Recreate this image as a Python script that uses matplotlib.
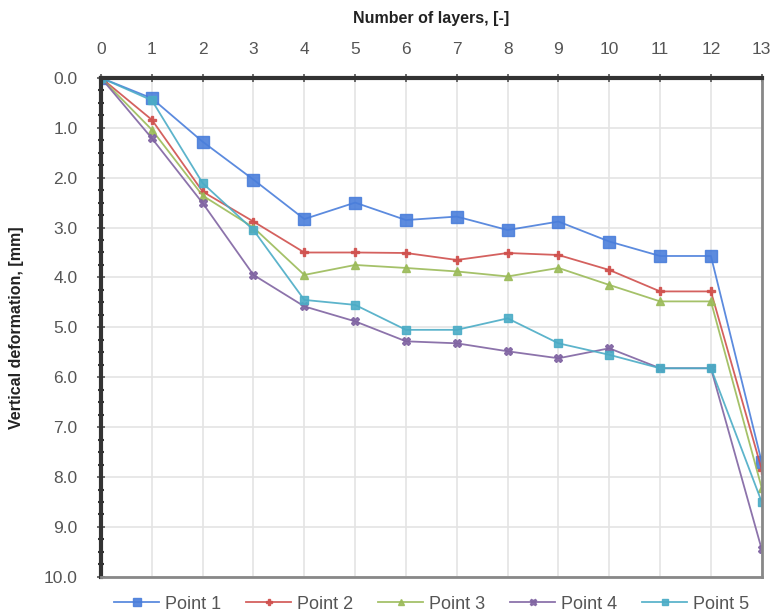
import matplotlib
matplotlib.use("Agg")
import matplotlib.pyplot as plt
from matplotlib.ticker import MultipleLocator, FormatStrFormatter

plt.rcParams['font.family'] = ['Liberation Sans', 'DejaVu Sans']

layers = list(range(14))
point1 = [0, 0.41, 1.28, 2.04, 2.83, 2.5, 2.85, 2.78, 3.05, 2.88, 3.28, 3.57, 3.57, 7.7]
point2 = [0, 0.84, 2.28, 2.88, 3.5, 3.5, 3.51, 3.65, 3.51, 3.55, 3.85, 4.28, 4.28, 7.85]
point3 = [0, 1.04, 2.36, 3.0, 3.95, 3.75, 3.81, 3.88, 3.98, 3.81, 4.15, 4.48, 4.48, 8.22]
point4 = [0, 1.21, 2.51, 3.95, 4.58, 4.88, 5.28, 5.32, 5.48, 5.62, 5.42, 5.82, 5.82, 9.45]
point5 = [0, 0.45, 2.11, 3.05, 4.45, 4.55, 5.05, 5.05, 4.82, 5.32, 5.55, 5.82, 5.82, 8.5]
labels = ['Point 1', 'Point 2', 'Point 3', 'Point 4', 'Point 5']
colors = ['#4A7EDB', '#D0504D', '#9BBB59', '#8064A2', '#4BACC6']
markers = ['s', 'P', '^', 'X', 's']
msizes = [8, 6, 6, 6, 6]

fig = plt.figure(figsize=(7.71, 6.13), dpi=100)
ax = fig.add_axes([0.131, 0.059, 0.857, 0.814])

for ys, lab, c, m, ms in zip([point1, point2, point3, point4, point5], labels, colors, markers, msizes):
    ax.plot(layers, ys, color=c, lw=1.3, marker=m, ms=ms, label=lab,
            markeredgecolor=c, alpha=0.9)

ax.set_xlim(0, 13)
ax.set_ylim(10, 0)
ax.xaxis.set_major_locator(MultipleLocator(1))
ax.yaxis.set_major_locator(MultipleLocator(1))
ax.yaxis.set_minor_locator(MultipleLocator(0.25))
ax.yaxis.set_major_formatter(FormatStrFormatter('%.1f'))
ax.xaxis.tick_top()
ax.xaxis.set_label_position('top')
ax.grid(True, which='major', color='#e4e4e4', lw=1.2)
ax.set_axisbelow(True)

ax.spines['top'].set_color('#333333')
ax.spines['top'].set_linewidth(3)
ax.spines['left'].set_color('#333333')
ax.spines['left'].set_linewidth(3)
ax.spines['right'].set_color('#888888')
ax.spines['right'].set_linewidth(2)
ax.spines['bottom'].set_color('#888888')
ax.spines['bottom'].set_linewidth(2)

ax.tick_params(axis='both', which='major', labelsize=12.5, labelcolor='#555555', color='#555555',
               direction='inout', length=6, width=1.2)
ax.tick_params(axis='y', which='minor', direction='inout', length=5, width=1.5, color='#333333')
ax.tick_params(axis='x', which='major', pad=12)
ax.tick_params(axis='y', which='major', pad=14)

ax.set_xlabel('Number of layers, [-]', fontsize=11.5, fontweight='bold', labelpad=14, color='#222222')
ax.set_ylabel('Vertical deformation, [mm]', fontsize=11.5, fontweight='bold', labelpad=14, color='#222222')

leg = ax.legend(loc='upper center', bbox_to_anchor=(0.5, -0.005), ncol=5, frameon=False,
                fontsize=13, handlelength=2.5, columnspacing=1.4, handletextpad=0.3, markerscale=0.8)
for t in leg.get_texts():
    t.set_color('#555555')

fig.savefig('out.png', dpi=100)
